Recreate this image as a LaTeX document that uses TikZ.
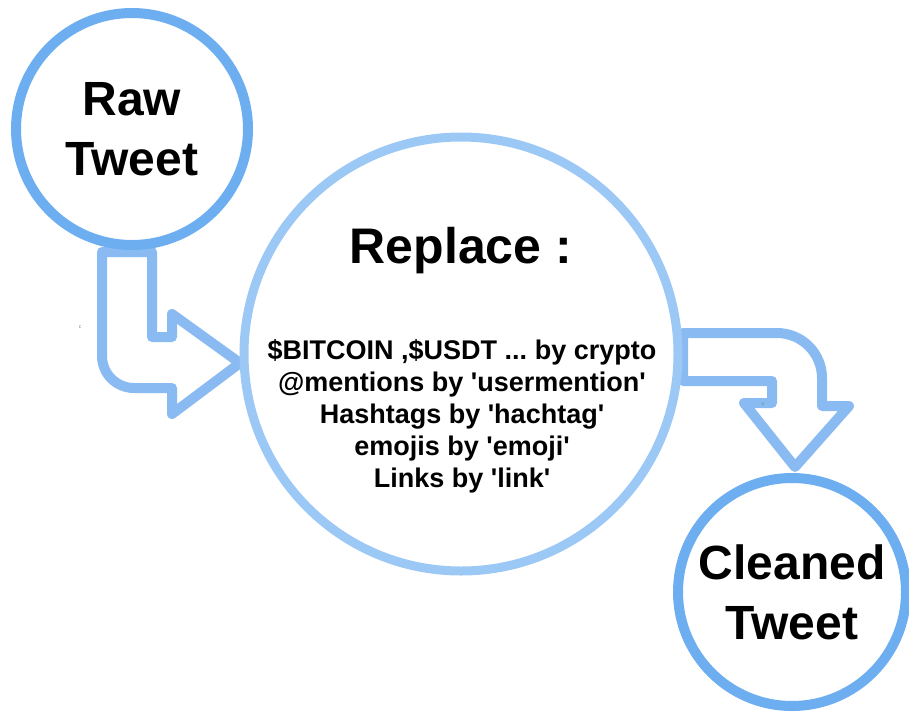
\documentclass[tikz,border=0pt]{standalone}
\usepackage{fontspec}
\setmainfont{Liberation Sans}
\usetikzlibrary{positioning, calc}
\definecolor{ringblue}{HTML}{6DAEF0}
\definecolor{paleblue}{HTML}{9CC8F5}
\definecolor{arrowblue}{HTML}{74AEEE}
\tikzstyle{tweet} = [circle, draw=ringblue, line width=10pt, fill=white, inner sep=0pt, align=center, font=\bfseries\fontsize{48}{60}\selectfont]
\tikzstyle{bigstep} = [circle, draw=paleblue, line width=9pt, fill=white, minimum size=434pt]
\tikzstyle{bentarrow} = [draw=arrowblue, line width=10pt, line join=round, opacity=0.85]
\tikzstyle{tiny} = [font=\fontsize{5}{6}\selectfont, text=gray, inner sep=0pt]
\newcommand{\sq}{\textquotesingle}
\frenchspacing

\begin{document}
\begin{tikzpicture}[x=1pt, y=-1pt]
\useasboundingbox (0,0) rectangle (909,715);

% Bent arrows
\draw [bentarrow] (102,252) -- (102,356) arc[start angle=180, end angle=90, radius=32]
  -- (172,388) -- (172,414) -- (240,363) -- (172,314) -- (172,337) -- (152,337) -- (152,252) -- cycle;
\draw [bentarrow] (683,333) -- (777,333) arc[start angle=270, end angle=360, radius=45]
  -- (822,406) -- (849,406) -- (795,467) -- (744,403) -- (772,403) -- (772,381) -- (683,381) -- cycle;

% Nodes
\node (raw) [tweet, minimum size=232pt] at (132,129) {Raw\\Tweet};
\node (replace) [bigstep] at (461,354) {};
\node (clean) [tweet, minimum size=228pt] at (792,592) {Cleaned\\Tweet};
\node (title) [anchor=base, font=\bfseries\fontsize{50}{60}\selectfont] at (461,263) {Replace :};
\node (rules) [align=center, font=\bfseries\fontsize{27}{32}\selectfont] at (462,416)
  {\$BITCOIN ,\$USDT ... by crypto\\
   @mentions by \sq usermention\sq\\
   Hashtags by \sq hachtag\sq\\
   emojis by \sq emoji\sq\\
   Links by \sq link\sq};
\node (c1) [tiny] at (80,327) {c};
\node (c2) [tiny] at (763,404) {c};

\end{tikzpicture}
\end{document}
